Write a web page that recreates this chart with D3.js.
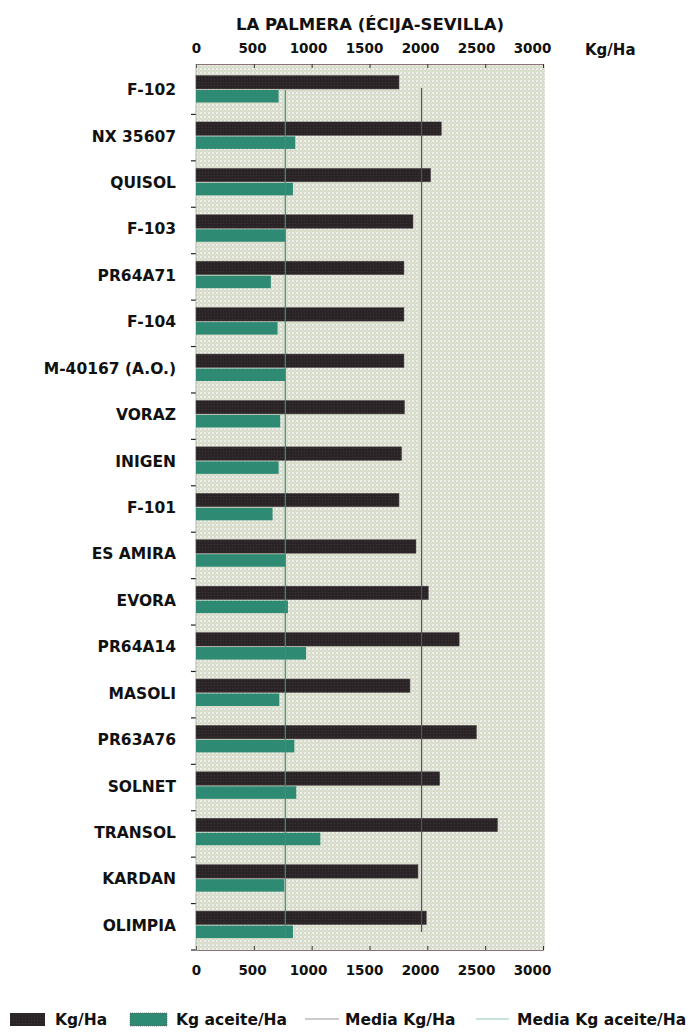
<!DOCTYPE html>
<html>
<head>
<meta charset="utf-8">
<script src="https://cdn.jsdelivr.net/npm/d3@7"></script>
<style>
 body { margin:0; background:#fff; }
 text { font-family: "DejaVu Sans", sans-serif; font-weight:bold; fill:#111; }
</style>
</head>
<body>
<div id="chart"></div>
<script>
var categories = ["F-102","NX 35607","QUISOL","F-103","PR64A71","F-104","M-40167 (A.O.)","VORAZ","INIGEN","F-101",
  "ES AMIRA","EVORA","PR64A14","MASOLI","PR63A76","SOLNET","TRANSOL","KARDAN","OLIMPIA"];
var kgHa =     [1755,2121,2029,1876,1798,1798,1798,1803,1778,1755,1902,2009,2275,1850,2425,2107,2607,1919,1991];
var kgAceite = [714, 858, 838, 772, 647, 705, 772, 728, 714, 662, 772, 795, 951, 720, 850, 867, 1075,763, 838];
var mediaKg = 1950;
var mediaAceite = 772;
var ticks = [0,500,1000,1500,2000,2500,3000];

var w = 700, h = 1034;
var svg = d3.select("#chart").append("svg").attr("width", w).attr("height", h);

var x = d3.scaleLinear().domain([0,3000]).range([196,543]);
var y = d3.scaleBand().domain(categories).range([68,950]);

// background pattern (dotted map texture)
var defs = svg.append("defs");
var pat = defs.append("pattern").attr("id","dots").attr("width",4).attr("height",4).attr("patternUnits","userSpaceOnUse");
pat.append("rect").attr("width",4).attr("height",4).attr("fill","#d5dccf");
pat.append("circle").attr("cx",1).attr("cy",1).attr("r",1).attr("fill","#f7f6ee");
pat.append("circle").attr("cx",3).attr("cy",3).attr("r",0.7).attr("fill","#eee8c8");

var bpat = defs.append("pattern").attr("id","bdots").attr("width",3).attr("height",3).attr("patternUnits","userSpaceOnUse");
bpat.append("rect").attr("width",3).attr("height",3).attr("fill","#2a2426");
bpat.append("circle").attr("cx",1.5).attr("cy",1.5).attr("r",0.6).attr("fill","#3e3638");

svg.append("rect").attr("x",x(0)).attr("y",64).attr("width",x(3000)-x(0)+2).attr("height",950-64)
  .attr("fill","url(#dots)");

// title
svg.append("text").attr("x",370).attr("y",30).attr("text-anchor","middle").attr("font-size",16.5).text("LA PALMERA (ÉCIJA-SEVILLA)");
svg.append("text").attr("x",585).attr("y",55).attr("font-size",15).text("Kg/Ha");

// axes
var gTop = svg.append("g").attr("transform","translate(0,64)")
  .call(d3.axisTop(x).tickValues(ticks).tickSize(-4).tickPadding(11).tickFormat(d3.format("d")));
var gBot = svg.append("g").attr("transform","translate(0,950)")
  .call(d3.axisBottom(x).tickValues(ticks).tickSize(-4).tickPadding(15).tickFormat(d3.format("d")));
[gTop,gBot].forEach(function(g){
  g.select(".domain").attr("stroke","#8a7478");
  g.selectAll(".tick line").attr("stroke","#333");
  g.selectAll("text").attr("font-size",13.5).attr("fill","#111")
   .attr("dx",function(d){ return -d/3000*11; })
   .style("font-family","'DejaVu Sans', sans-serif").style("font-weight","bold");
});

// left ticks on category separators
svg.selectAll(".sep").data(categories).enter().append("line")
  .attr("x1",191).attr("x2",196)
  .attr("y1",function(d,i){ return y(d)+y.step(); })
  .attr("y2",function(d,i){ return y(d)+y.step(); })
  .attr("stroke","#222").attr("stroke-width",1.2);
svg.append("line").attr("x1",196).attr("x2",196).attr("y1",64).attr("y2",950).attr("stroke","#9aa395").attr("stroke-width",0.8);

// category labels
svg.selectAll(".lab").data(categories).enter().append("text")
  .attr("x",176).attr("y",function(d){ return y(d)+y.bandwidth()/2+4; })
  .attr("text-anchor","end").attr("font-size",15.5).text(function(d){ return d; });

// bars
svg.selectAll(".kg").data(kgHa).enter().append("rect")
  .attr("x",x(0)).attr("y",function(d,i){ return y(categories[i])+7.5; })
  .attr("width",function(d){ return x(d)-x(0); }).attr("height",13.5)
  .attr("fill","url(#bdots)").attr("stroke","#5a5052").attr("stroke-width",0.5);
svg.selectAll(".ac").data(kgAceite).enter().append("rect")
  .attr("x",x(0)).attr("y",function(d,i){ return y(categories[i])+22; })
  .attr("width",function(d){ return x(d)-x(0); }).attr("height",12.5)
  .attr("fill","#2e8a73");

// mean lines
svg.append("line").attr("x1",x(mediaKg)).attr("x2",x(mediaKg)).attr("y1",88).attr("y2",932)
  .attr("stroke","#555").attr("stroke-width",1.2);
svg.append("line").attr("x1",x(mediaAceite)).attr("x2",x(mediaAceite)).attr("y1",90).attr("y2",937)
  .attr("stroke","#3f8f7c").attr("stroke-width",1.2);

// legend
var lg = svg.append("g").attr("transform","translate(0,1019)");
lg.append("rect").attr("x",10).attr("y",-6).attr("width",35).attr("height",13).attr("fill","url(#bdots)");
lg.append("text").attr("x",55).attr("y",6).attr("font-size",15.5).text("Kg/Ha");
lg.append("rect").attr("x",130).attr("y",-6).attr("width",37).attr("height",13).attr("fill","#2e8a73").attr("stroke","#555").attr("stroke-width",0.6).attr("stroke-dasharray","1,1");
lg.append("text").attr("x",176).attr("y",6).attr("font-size",15.5).text("Kg aceite/Ha");
lg.append("line").attr("x1",305).attr("x2",339).attr("y1",0).attr("y2",0).attr("stroke","#999").attr("stroke-width",1.2);
lg.append("text").attr("x",345).attr("y",6).attr("font-size",15.5).text("Media Kg/Ha");
lg.append("line").attr("x1",476).attr("x2",509).attr("y1",0).attr("y2",0).attr("stroke","#8cc7b8").attr("stroke-width",1.2);
lg.append("text").attr("x",517).attr("y",6).attr("font-size",15.5).text("Media Kg aceite/Ha");
</script>
</body>
</html>
